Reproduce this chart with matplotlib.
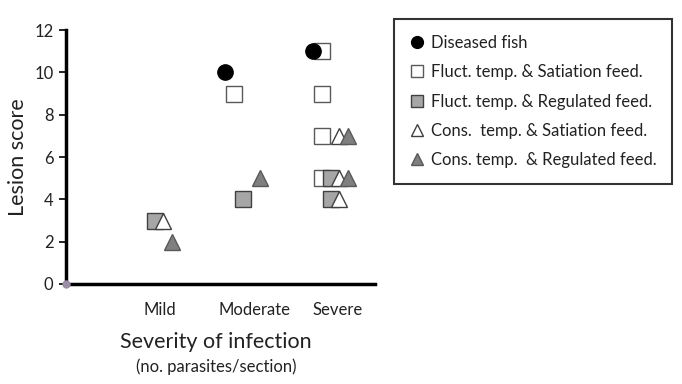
import matplotlib
matplotlib.use("Agg")
import matplotlib.pyplot as plt
from matplotlib.lines import Line2D

plt.rcParams['font.family'] = ['Lato', 'DejaVu Sans']

# ---- data ----
categories = ["Mild", "Moderate", "Severe"]
cat_index = {"Mild": 1, "Moderate": 2, "Severe": 3}

diseased_cat = ["Moderate", "Severe"]
diseased_val = [10, 11]

fs_sat_cat = ["Moderate", "Severe", "Severe", "Severe", "Severe"]
fs_sat_val = [9, 11, 9, 7, 5]

fs_reg_cat = ["Mild", "Moderate", "Severe", "Severe"]
fs_reg_val = [3, 4, 5, 4]

cs_sat_cat = ["Mild", "Severe", "Severe", "Severe"]
cs_sat_val = [3, 7, 5, 4]

cs_reg_cat = ["Mild", "Moderate", "Severe", "Severe"]
cs_reg_val = [2, 5, 7, 5]

yticks = [0, 2, 4, 6, 8, 10, 12]
labels = ["Diseased fish",
          "Fluct. temp. & Satiation feed.",
          "Fluct. temp. & Regulated feed.",
          "Cons.  temp. & Satiation feed.",
          "Cons. temp.  & Regulated feed."]

# ---- figure ----
W, H = 682, 384
fig = plt.figure(figsize=(W / 100, H / 100), dpi=100)
ax = fig.add_axes([66 / W, 1 - 284 / H, (375 - 66) / W, (284 - 30) / H])

step = 0.1
series = [
    (diseased_cat, diseased_val, 0, dict(marker='o', mfc='black', mec='black'), 6),
    (fs_sat_cat, fs_sat_val, 1, dict(marker='s', mfc='white', mec='#595959'), 2),
    (fs_reg_cat, fs_reg_val, 2, dict(marker='s', mfc='#a6a6a6', mec='#404040'), 3),
    (cs_sat_cat, cs_sat_val, 3, dict(marker='^', mfc='white', mec='#404040'), 4),
    (cs_reg_cat, cs_reg_val, 4, dict(marker='^', mfc='#7f7f7f', mec='#595959'), 5),
]
handles = []
for cats, vals, k, style, z in series:
    xs = [cat_index[c] + k * step for c in cats]
    ax.plot(xs, vals, linestyle='none', markersize=11, markeredgewidth=1.0,
            zorder=z, clip_on=False, **style)
    handles.append(Line2D([], [], linestyle='none', markersize=8.5,
                          markeredgewidth=1.0, **style))

# small dot at the origin
ax.plot([0.193], [0], marker='o', markersize=5, color='#9a8fa5',
        linestyle='none', zorder=7, clip_on=False)

ax.set_xlim(0.193, 3.705)
ax.set_ylim(0, 12)
ax.set_yticks(yticks)
ax.set_xticks([1.26, 2.34, 3.28])
ax.set_xticklabels(categories)
ax.tick_params(axis='x', length=0, pad=13, labelsize=12, labelcolor='#222222')
ax.tick_params(axis='y', length=5, width=1.2, direction='out', pad=4,
               labelsize=12, labelcolor='#222222')

for s in ['top', 'right']:
    ax.spines[s].set_visible(False)
for s in ['left', 'bottom']:
    ax.spines[s].set_linewidth(2.5)
    ax.spines[s].set_color('black')

fig.text(18 / W, 1 - 157 / H, "Lesion score", rotation=90, ha='center',
         va='center', fontsize=15.5, color='#222222')
fig.text(216 / W, 1 - 342 / H, "Severity of infection", ha='center',
         va='center', fontsize=15.5, color='#222222')
fig.text(216 / W, 1 - 367 / H, "(no. parasites/section)", ha='center',
         va='center', fontsize=12, color='#222222')

leg = fig.legend(handles, labels, loc='upper left',
                 bbox_to_anchor=(394 / W, 1 - 19 / H),
                 bbox_transform=fig.transFigure,
                 frameon=True, fancybox=False, fontsize=12,
                 handlelength=0.9, handletextpad=0.35, labelspacing=0.8,
                 borderpad=0.95, borderaxespad=0)
leg.get_frame().set_edgecolor('black')
leg.get_frame().set_linewidth(1.5)
for t in leg.get_texts():
    t.set_color('#222222')

fig.savefig("out.png", dpi=100)
